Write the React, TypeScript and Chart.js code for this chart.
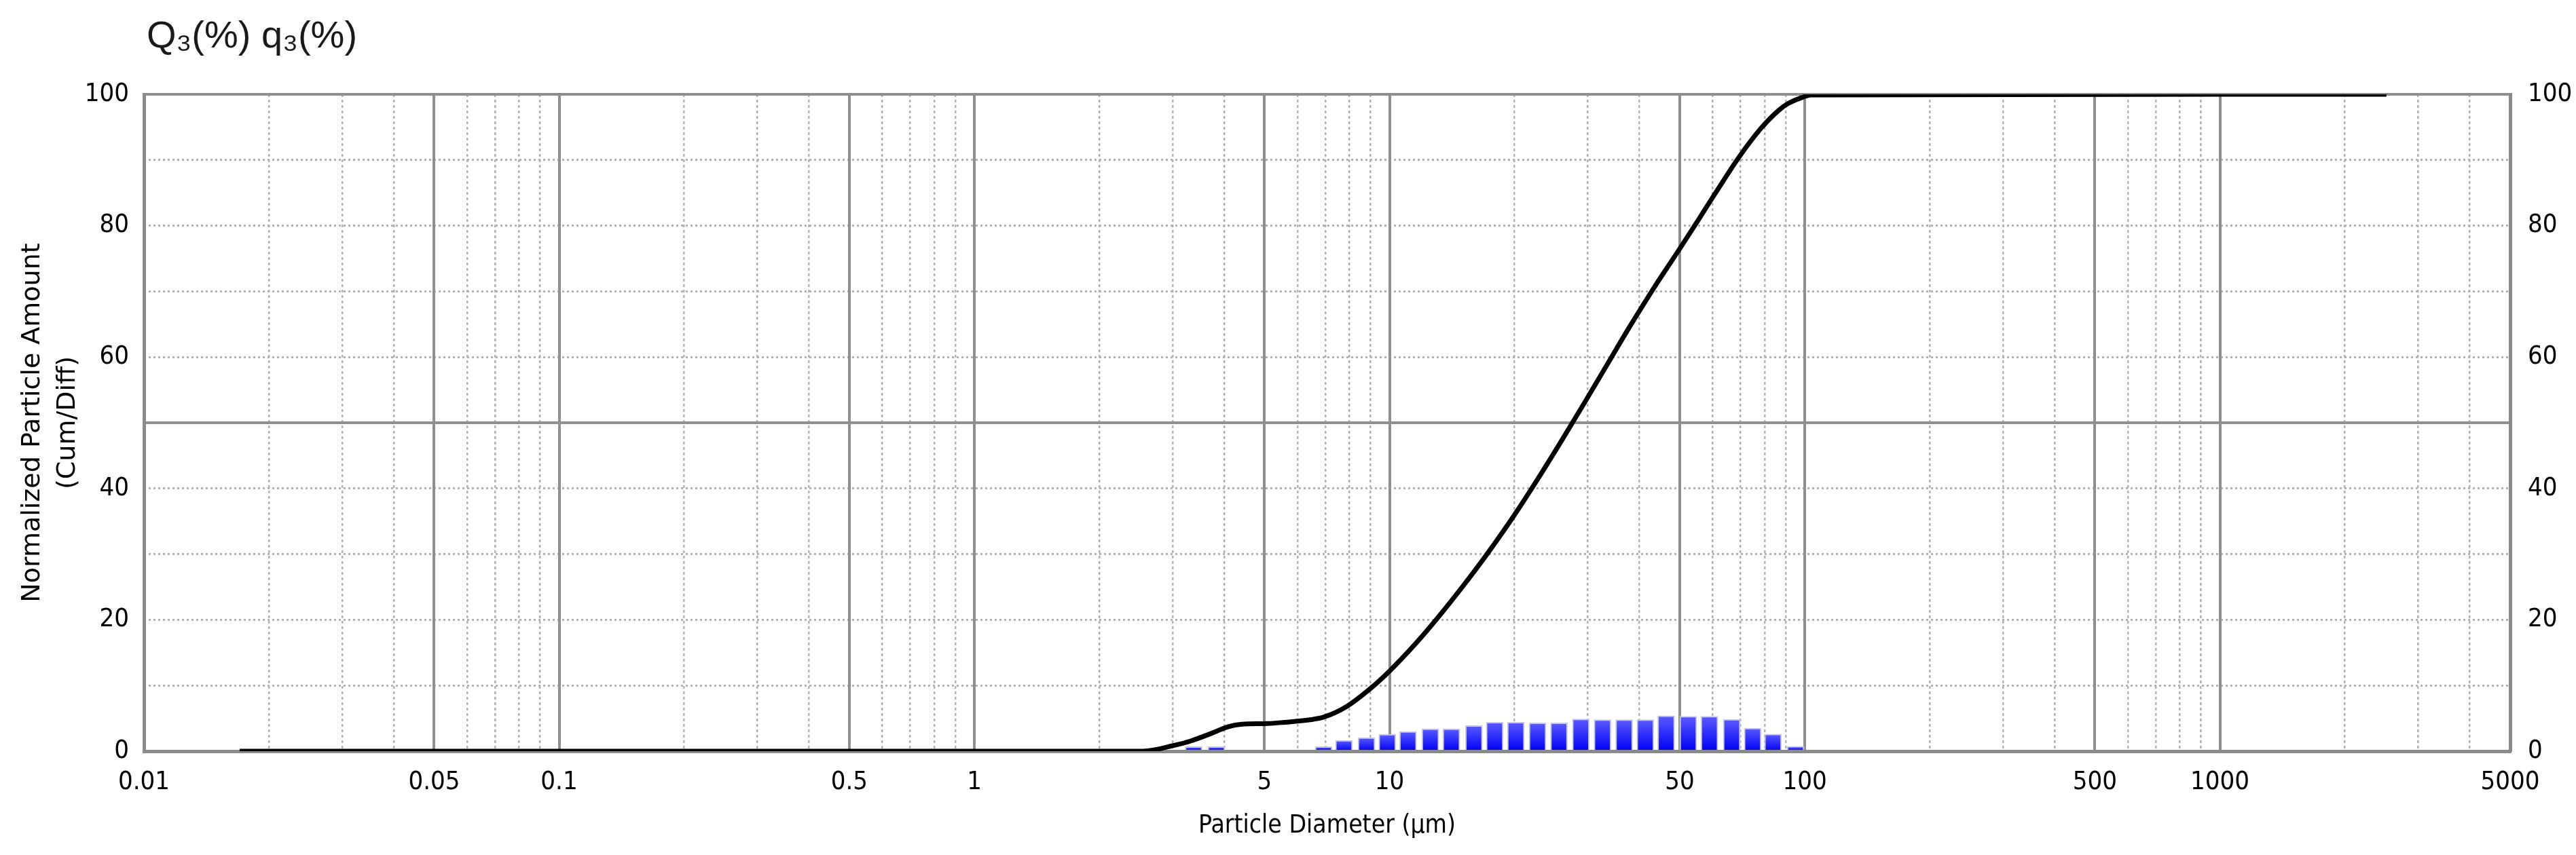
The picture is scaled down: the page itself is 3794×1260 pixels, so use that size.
import React, { useEffect, useRef } from 'react';
import { Chart, registerables } from 'chart.js';

Chart.register(...registerables);

// ---- data ----
const X_TICK_LABELS = ['0.01', '0.05', '0.1', '0.5', '1', '5', '10', '50', '100', '500', '1000', '5000'];
const Y_TICK_LABELS = [0, 20, 40, 60, 80, 100];

// cumulative curve Q3 (%)
const CUM_X = [0.017, 2.0, 2.55, 2.72, 2.99, 3.3, 3.72, 4.08, 4.41, 5.08, 5.59, 6.47, 6.95, 7.88, 8.94, 10.0, 11.49, 13.02, 15.14, 17.17, 19.96, 22.63, 25.98, 29.45, 33.39, 37.86, 44.0, 49.9, 55.2, 61.0, 69.2, 78.4, 86.7, 91.2, 98.3, 103.4, 2518];
const CUM_Y = [0, 0, 0, 0.2, 0.8, 1.5, 2.7, 3.7, 4.1, 4.2, 4.4, 4.8, 5.2, 6.8, 9.4, 12.2, 16.2, 20.2, 25.4, 30.0, 35.9, 41.2, 47.3, 53.0, 58.8, 64.6, 71.2, 76.4, 80.7, 85.0, 90.3, 94.8, 97.6, 98.6, 99.5, 99.9, 100];

// differential distribution q3 (%)
const BIN_X = [3.375, 3.828, 6.939, 7.767, 8.799, 9.874, 11.08, 12.54, 14.09, 15.97, 17.92, 20.15, 22.72, 25.59, 28.89, 32.58, 36.73, 41.31, 46.37, 52.41, 58.95, 66.71, 74.93, 83.87, 95.06];
const BIN_Y = [0.7, 0.7, 0.7, 1.65, 2.06, 2.58, 3.0, 3.4, 3.4, 3.9, 4.4, 4.4, 4.3, 4.3, 4.9, 4.8, 4.8, 4.8, 5.4, 5.3, 5.3, 4.85, 3.5, 2.6, 0.75];

const TITLE = 'Q\u2083(%) q\u2083(%)';
const X_TITLE = 'Particle Diameter (\u03bcm)';
const Y_TITLE = ['Normalized Particle Amount', '(Cum/Diff)'];

// ---- layout / style ----
const W = 3794;
const H = 1260;
const X_MIN = 0.01;
const X_MAX = 5000;
const SANS = "'Liberation Sans', Arial, sans-serif";
const COND = "'DejaVu Sans Condensed', 'Liberation Sans', sans-serif";
const WIDE = "'DejaVu Sans', Verdana, sans-serif";
const MAJOR_COLOR = '#8f8f8f';
const BORDER_COLOR = '#8a8a8a';
const MINOR_COLOR = '#b2b2b2';
const TRANSPARENT = 'rgba(0,0,0,0)';

// grid positions (1..9 x decade)
const X_MAJOR: number[] = X_TICK_LABELS.map((s) => parseFloat(s));
const X_MINOR: number[] = [];
for (let e = -2; e <= 3; e++) {
  for (let k = 2; k <= 9; k++) {
    if (k === 5) continue;
    const v = parseFloat((k * Math.pow(10, e)).toPrecision(6));
    if (v < X_MAX) X_MINOR.push(v);
  }
}
const Y_MAJOR = [0, 50, 100];
const Y_MINOR = [10, 20, 30, 40, 60, 70, 80, 90];

function xLabel(v: number): string {
  for (const s of X_TICK_LABELS) {
    const n = parseFloat(s);
    if (Math.abs(Math.log10(n) - Math.log10(v)) < 1e-6) return s;
  }
  return '';
}

const cornerTitle = {
  id: 'cornerTitle',
  afterDraw(chart: any) {
    const { ctx, chartArea } = chart;
    if (!chartArea) return;
    ctx.save();
    ctx.font = `normal 56px ${SANS}`;
    ctx.fillStyle = '#1a1a1a';
    ctx.textAlign = 'left';
    ctx.textBaseline = 'middle';
    ctx.fillText(TITLE, chartArea.left + 4, chartArea.top - 84);
    ctx.restore();
  },
};

export default function App() {
  const ref = useRef<HTMLCanvasElement | null>(null);

  useEffect(() => {
    const canvas = ref.current;
    if (!canvas) return;

    const lineData = CUM_X.map((x, i) => ({ x, y: CUM_Y[i] }));
    const barData = BIN_X.map((x, i) => ({ x, y: BIN_Y[i] }));

    const chart = new Chart(canvas, {
      type: 'line',
      data: {
        datasets: [
          {
            type: 'line',
            label: 'Q3',
            data: lineData,
            borderColor: '#000000',
            borderWidth: 7,
            pointRadius: 0,
            cubicInterpolationMode: 'monotone',
            fill: false,
            order: 0,
            xAxisID: 'x',
            yAxisID: 'y',
          },
          {
            type: 'bar',
            label: 'q3',
            data: barData,
            barThickness: 25,
            borderWidth: 2,
            borderColor: '#c9c9d6',
            borderSkipped: 'start',
            backgroundColor: (ctx: any) => {
              const chart = ctx.chart;
              const area = chart.chartArea;
              if (!area || !ctx.raw) return '#0000ff';
              const ys = chart.scales.y;
              const top = ys.getPixelForValue(ctx.raw.y);
              const bottom = ys.getPixelForValue(0);
              if (!isFinite(top) || !isFinite(bottom) || bottom - top < 1) return '#3c3cff';
              const g = chart.ctx.createLinearGradient(0, top, 0, bottom);
              g.addColorStop(0, '#5a5aff');
              g.addColorStop(1, '#0000f5');
              return g;
            },
            order: 1,
            xAxisID: 'x',
            yAxisID: 'y',
          },
        ],
      } as any,
      options: {
        animation: false,
        responsive: false,
        maintainAspectRatio: false,
        devicePixelRatio: 1,
        layout: { padding: { top: 139, left: 0, right: 0, bottom: 0 } },
        plugins: {
          legend: { display: false },
          tooltip: { enabled: false },
          title: { display: false },
        },
        scales: {
          x: {
            type: 'logarithmic',
            position: 'bottom',
            min: X_MIN,
            max: X_MAX,
            offset: false,
            afterBuildTicks: (s: any) => {
              s.ticks = X_MAJOR.map((v) => ({ value: v }));
            },
            afterFit: (s: any) => {
              s.height = 153;
            },
            ticks: {
              autoSkip: false,
              maxRotation: 0,
              minRotation: 0,
              padding: 23,
              color: '#000',
              font: { family: COND, size: 38, lineHeight: 1.2 },
              callback: (v: any) => xLabel(Number(v)),
            },
            grid: {
              offset: false,
              drawTicks: false,
              color: MAJOR_COLOR,
              lineWidth: 4,
            },
            border: { display: true, color: BORDER_COLOR, width: 5 },
            title: {
              display: true,
              text: X_TITLE,
              color: '#000',
              font: { family: COND, size: 37, lineHeight: 1.2 },
              padding: { top: 0, bottom: 20.8 },
            },
          },
          xMinor: {
            type: 'logarithmic',
            position: 'bottom',
            min: X_MIN,
            max: X_MAX,
            offset: false,
            afterBuildTicks: (s: any) => {
              s.ticks = X_MINOR.map((v) => ({ value: v }));
            },
            afterFit: (s: any) => {
              s.height = 0;
            },
            ticks: { display: false },
            grid: {
              offset: false,
              drawTicks: false,
              color: MINOR_COLOR,
              lineWidth: 2.5,
              z: -2,
              borderDash: [4, 4],
            } as any,
            border: { display: false, dash: [4, 4] },
          },
          y: {
            type: 'linear',
            position: 'left',
            min: 0,
            max: 100,
            afterBuildTicks: (s: any) => {
              const vals = Array.from(new Set([...Y_TICK_LABELS, ...Y_MAJOR])).sort((a, b) => a - b);
              s.ticks = vals.map((v) => ({ value: v }));
            },
            afterFit: (s: any) => {
              s.width = 212;
            },
            ticks: {
              autoSkip: false,
              padding: 22,
              color: '#000',
              font: { family: COND, size: 38, lineHeight: 1.2 },
              callback: (v: any) => (Y_TICK_LABELS.includes(Number(v)) ? String(v) : ''),
            },
            grid: {
              drawTicks: false,
              lineWidth: 4,
              color: (ctx: any) => (ctx.tick && Y_MAJOR.includes(ctx.tick.value) ? MAJOR_COLOR : TRANSPARENT),
            },
            border: { display: true, color: BORDER_COLOR, width: 5 },
            title: {
              display: true,
              text: Y_TITLE,
              color: '#000',
              font: { family: WIDE, size: 38, lineHeight: 1.37 },
              padding: { top: 22, bottom: 0 },
            },
          },
          yMinor: {
            type: 'linear',
            position: 'left',
            min: 0,
            max: 100,
            afterBuildTicks: (s: any) => {
              s.ticks = Y_MINOR.map((v) => ({ value: v }));
            },
            afterFit: (s: any) => {
              s.width = 0;
            },
            ticks: { display: false },
            grid: {
              drawTicks: false,
              color: MINOR_COLOR,
              lineWidth: 3,
              z: -2,
              borderDash: [3, 4],
            } as any,
            border: { display: false, dash: [3, 4] },
          },
          y2: {
            type: 'linear',
            position: 'right',
            min: 0,
            max: 100,
            afterBuildTicks: (s: any) => {
              s.ticks = Y_TICK_LABELS.map((v) => ({ value: v }));
            },
            afterFit: (s: any) => {
              s.width = 97;
            },
            ticks: {
              autoSkip: false,
              padding: 26,
              color: '#000',
              font: { family: COND, size: 38, lineHeight: 1.2 },
            },
            grid: { drawOnChartArea: false, drawTicks: false },
            border: { display: true, color: BORDER_COLOR, width: 5 },
          },
        },
      } as any,
      plugins: [cornerTitle],
    });

    return () => {
      chart.destroy();
    };
  }, []);

  return (
    <div style={{ position: 'fixed', left: 0, top: 0, width: W, height: H, background: '#ffffff' }}>
      <canvas ref={ref} width={W} height={H} style={{ display: 'block', width: W, height: H }} />
    </div>
  );
}
